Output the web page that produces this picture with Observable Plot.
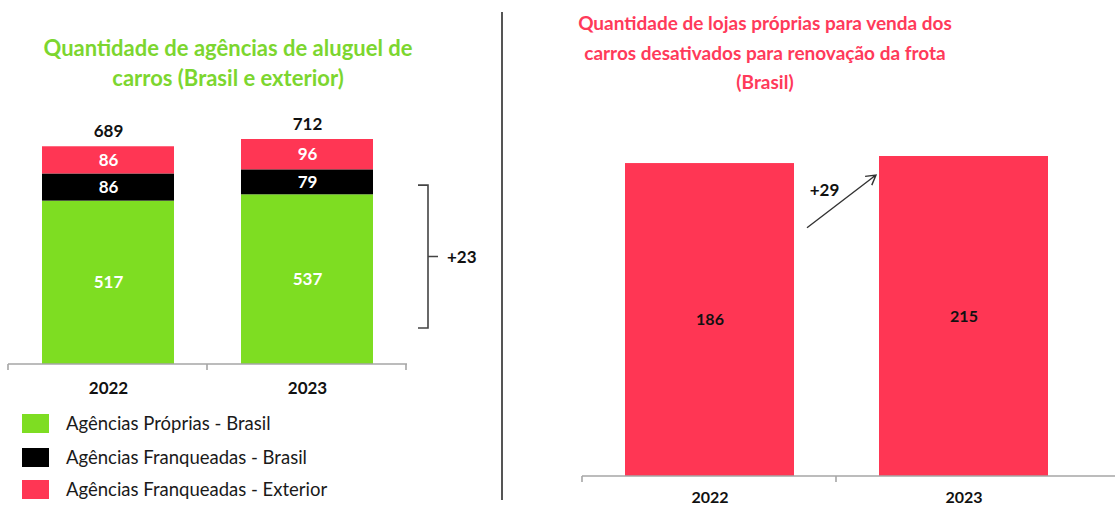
<!DOCTYPE html>
<html>
<head>
<meta charset="utf-8">
<script src="https://cdn.jsdelivr.net/npm/d3@7"></script>
<script src="https://cdn.jsdelivr.net/npm/@observablehq/plot@0.6"></script>
<style>
  body { margin: 0; background: #fff; font-family: Lato, "Open Sans", sans-serif; }
  #page { position: relative; width: 1115px; height: 507px; overflow: hidden; background: #fff; }
  .title { position: absolute; text-align: center; font-weight: 700; }
  #titleL { left: 0; top: 33px; width: 456px; line-height: 30px; font-size: 22px; color: #7cd62f; }
  #titleR { left: 505px; top: 8px; width: 520px; line-height: 29.5px; font-size: 19px; color: #ff3a5a; }
  #leftChart { position: absolute; left: 0; top: 100px; }
  #rightChart { position: absolute; left: 505px; top: 100px; }
  #divider { position: absolute; left: 501px; top: 12px; width: 1.5px; height: 488px; background: #555; }
  .li { position: absolute; left: 22px; height: 19px; }
  .sw { position: absolute; left: 0; top: 0; width: 27px; height: 19px; }
  .lt { position: absolute; left: 44px; top: -1px; white-space: nowrap; font-size: 18.5px; line-height: 20px; color: #1a1a1a; }
  svg text { font-family: Lato, "Open Sans", sans-serif; }
</style>
</head>
<body>
<div id="page">
  <div id="titleL" class="title">Quantidade de agências de aluguel de<br>carros (Brasil e exterior)</div>
  <div id="titleR" class="title">Quantidade de lojas próprias para venda dos<br>carros desativados para renovação da frota<br>(Brasil)</div>
  <div id="divider"></div>
  <div id="leftChart"></div>
  <div id="rightChart"></div>
  <div id="legend"></div>
</div>
<script>
// ---- Data ----
const years = ["2022", "2023"];
const proprias = [517, 537];          // Agências Próprias - Brasil
const franqBrasil = [86, 79];         // Agências Franqueadas - Brasil
const franqExterior = [86, 96];       // Agências Franqueadas - Exterior
const totals = [689, 712];
const seriesNames = ["Agências Próprias - Brasil", "Agências Franqueadas - Brasil", "Agências Franqueadas - Exterior"];
const seriesColors = ["#7edd22", "#000000", "#ff3654"];
const bracketSpan = [114, 566];
const bracketLabel = "+23";

const lojas = [186, 215];
const lojasFloor = -1100;             // visual baseline of the right chart's bars
const arrowSpan = [-80, 137];
const arrowLabel = "+29";

// ---- Tables ----
const stacked = [];
years.forEach((yr, i) => {
  let base = 0;
  [proprias, franqBrasil, franqExterior].forEach((s, j) => {
    stacked.push({year: yr, series: seriesNames[j], y1: base, y2: base + s[i], mid: base + s[i] / 2, value: s[i]});
    base += s[i];
  });
});
const totalRows = years.map((yr, i) => ({year: yr, total: totals[i], zero: 0}));
const lojasRows = years.map((yr, i) => ({year: yr, value: lojas[i], floor: lojasFloor, mid: (lojas[i] + lojasFloor) / 2}));

const axisColor = "#a6a6a6";

function bandAxis(yValue, tickCount, extendToWidth) {
  return (index, {x, y}, values, dims) => {
    const g = d3.create("svg:g");
    const r = x.range();
    const step = x.step();
    const y0 = y(yValue);
    g.append("line").attr("x1", r[0]).attr("x2", extendToWidth ? dims.width : r[1])
      .attr("y1", y0).attr("y2", y0).attr("stroke", axisColor).attr("stroke-width", 1.6);
    for (let i = 0; i < tickCount; i++) {
      const xt = r[0] + i * step;
      g.append("line").attr("x1", xt).attr("x2", xt).attr("y1", y0).attr("y2", y0 + 6)
        .attr("stroke", axisColor).attr("stroke-width", 1.6);
    }
    return g.node();
  };
}

// ---- Left chart ----
const left = Plot.plot({
  width: 500, height: 300,
  marginTop: 39, marginBottom: 36, marginLeft: 0, marginRight: 0,
  x: {type: "band", domain: years, range: [8, 407], paddingInner: 0.335, paddingOuter: 0.1675, axis: null},
  y: {domain: [0, 712], axis: null},
  color: {domain: seriesNames, range: seriesColors},
  marks: [
    Plot.barY(stacked, {x: "year", y1: "y1", y2: "y2", fill: "series"}),
    Plot.text(stacked, {x: "year", y: "mid", text: d => String(d.value), fill: "white", fontSize: 17, fontWeight: 700}),
    Plot.text(totalRows, {x: "year", y: "total", text: d => String(d.total), dy: -15, fill: "#111", fontSize: 17, fontWeight: 700}),
    Plot.text(totalRows, {x: "year", y: "zero", text: "year", dy: 24, fill: "#111", fontSize: 17, fontWeight: 700}),
    bandAxis(0, 3, false),
    (index, {x, y}) => {
      const g = d3.create("svg:g");
      const xb = x.range()[1] + 21;
      const yt = y(bracketSpan[1]), yb = y(bracketSpan[0]), ym = (yt + yb) / 2;
      g.append("path")
        .attr("d", `M${xb - 10},${yt}H${xb}V${yb}H${xb - 10}M${xb},${ym}H${xb + 10}`)
        .attr("fill", "none").attr("stroke", "#444").attr("stroke-width", 1.6);
      g.append("text").attr("x", xb + 19).attr("y", ym).attr("dy", "0.35em").attr("text-anchor", "start")
        .attr("font-size", 17).attr("font-weight", 700).attr("fill", "#111").text(bracketLabel);
      return g.node();
    }
  ]
});
document.getElementById("leftChart").appendChild(left);

// ---- Right chart ----
const right = Plot.plot({
  width: 610, height: 407,
  marginTop: 56, marginBottom: 31, marginLeft: 0, marginRight: 0,
  x: {type: "band", domain: years, range: [77, 585], paddingInner: 0.335, paddingOuter: 0.1675, axis: null},
  y: {domain: [lojasFloor, 215], axis: null},
  marks: [
    Plot.barY(lojasRows, {x: "year", y1: "floor", y2: "value", fill: "#ff3654"}),
    Plot.text(lojasRows, {x: "year", y: "mid", text: d => String(d.value), fill: "#111", fontSize: 16, fontWeight: 700}),
    Plot.text(lojasRows, {x: "year", y: "floor", text: "year", dy: 21, fill: "#111", fontSize: 16, fontWeight: 700}),
    bandAxis(lojasFloor, 2, true),
    (index, {x, y}) => {
      const g = d3.create("svg:g");
      const bw = x.bandwidth();
      const x1 = x(years[0]) + bw + 13, x2 = x(years[1]) - 3;
      const y1 = y(arrowSpan[0]), y2 = y(arrowSpan[1]);
      const ang = Math.atan2(y2 - y1, x2 - x1);
      const hl = 11, ha = Math.PI / 6;
      const hx1 = x2 - hl * Math.cos(ang - ha), hy1 = y2 - hl * Math.sin(ang - ha);
      const hx2 = x2 - hl * Math.cos(ang + ha), hy2 = y2 - hl * Math.sin(ang + ha);
      g.append("path")
        .attr("d", `M${x1},${y1}L${x2},${y2}M${hx1},${hy1}L${x2},${y2}L${hx2},${hy2}`)
        .attr("fill", "none").attr("stroke", "#333").attr("stroke-width", 1.4);
      g.append("text").attr("x", (x1 + x2) / 2 - 17).attr("y", (y1 + y2) / 2 - 11).attr("dy", "0.35em")
        .attr("text-anchor", "middle").attr("font-size", 17).attr("font-weight", 700).attr("fill", "#111").text(arrowLabel);
      return g.node();
    }
  ]
});
document.getElementById("rightChart").appendChild(right);

// ---- Legend ----
const legend = document.getElementById("legend");
const legendTops = [414, 448, 480];
seriesNames.forEach((name, i) => {
  const row = document.createElement("div");
  row.className = "li";
  row.style.top = legendTops[i] + "px";
  row.innerHTML = `<span class="sw" style="background:${seriesColors[i]}"></span><span class="lt">${name}</span>`;
  legend.appendChild(row);
});
</script>
</body>
</html>
